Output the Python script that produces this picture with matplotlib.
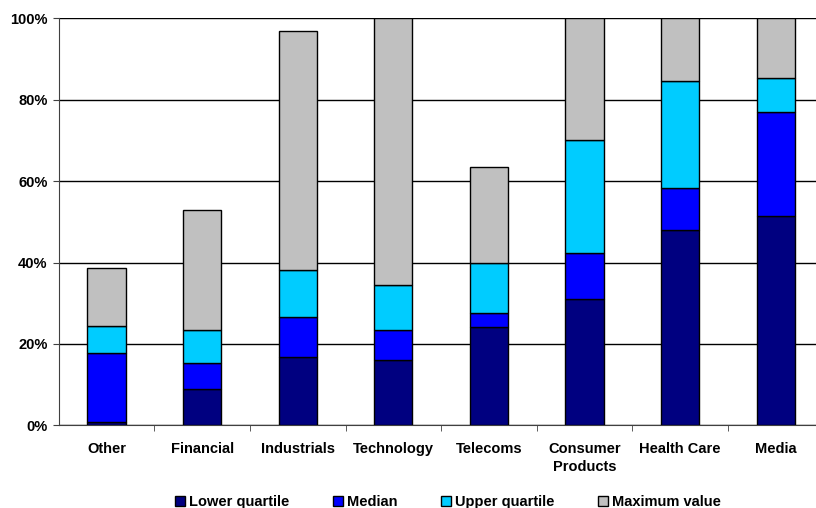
import matplotlib.pyplot as plt
import numpy as np

plt.rcParams['font.family'] = ['Liberation Sans', 'DejaVu Sans']
plt.rcParams['font.weight'] = 'bold'

# Sector distribution, cumulative levels in %
sectors = ['Other', 'Financial', 'Industrials', 'Technology', 'Telecoms',
           'Consumer\nProducts', 'Health Care', 'Media']
lower_q = [0.7, 8.8, 16.7, 16.1, 24.1, 31.1, 48.0, 51.4]
median = [17.7, 15.2, 26.5, 23.4, 27.6, 42.4, 58.2, 77.1]
upper_q = [24.3, 23.5, 38.2, 34.5, 40.0, 70.1, 84.7, 85.3]
max_val = [38.7, 52.8, 96.9, 100.0, 63.6, 100.0, 100.0, 100.0]

series = ['Lower quartile', 'Median', 'Upper quartile', 'Maximum value']
colors = ['#000080', '#0000ff', '#00ccff', '#c0c0c0']

fig = plt.figure(figsize=(8.16, 5.08), dpi=100)
ax = fig.add_axes([0.0719, 0.1628, 0.9375, 0.801])

x = np.arange(len(sectors))
levels = [lower_q, median, upper_q, max_val]
bottom = np.zeros(len(sectors))
for name, lvl, col in zip(series, levels, colors):
    lvl = np.array(lvl)
    ax.bar(x, lvl - bottom, bottom=bottom, width=0.4, color=col,
           edgecolor='black', linewidth=1, label=name, zorder=3)
    bottom = lvl

ax.set_xlim(-0.5, len(sectors) - 0.5)
ax.set_ylim(0, 100)
ax.set_yticks(np.arange(0, 101, 20))
ax.set_yticklabels([f'{v}%' for v in range(0, 101, 20)], fontsize=10.5)
ax.yaxis.grid(True, color='black', linewidth=1, zorder=0)

ax.set_xticks(x)
ax.set_xticklabels(sectors, fontsize=10.5, linespacing=1.35)
ax.set_xticks(np.arange(0.5, len(sectors) - 0.5), minor=True)
ax.tick_params(axis='x', which='major', length=0, pad=12)
ax.tick_params(axis='x', which='minor', length=4, direction='out', color='#404040')
ax.tick_params(axis='y', length=4, direction='out', color='#404040', pad=4)

for side in ['top', 'right']:
    ax.spines[side].set_visible(False)
ax.spines['left'].set_color('#404040')
ax.spines['bottom'].set_color('#404040')

fig.legend(loc='lower center', bbox_to_anchor=(0.549, -0.028), ncol=4,
           frameon=False, fontsize=10.5, handlelength=0.7, handleheight=0.7,
           handletextpad=0.3, columnspacing=2.95)

fig.savefig('out.png', dpi=100)
